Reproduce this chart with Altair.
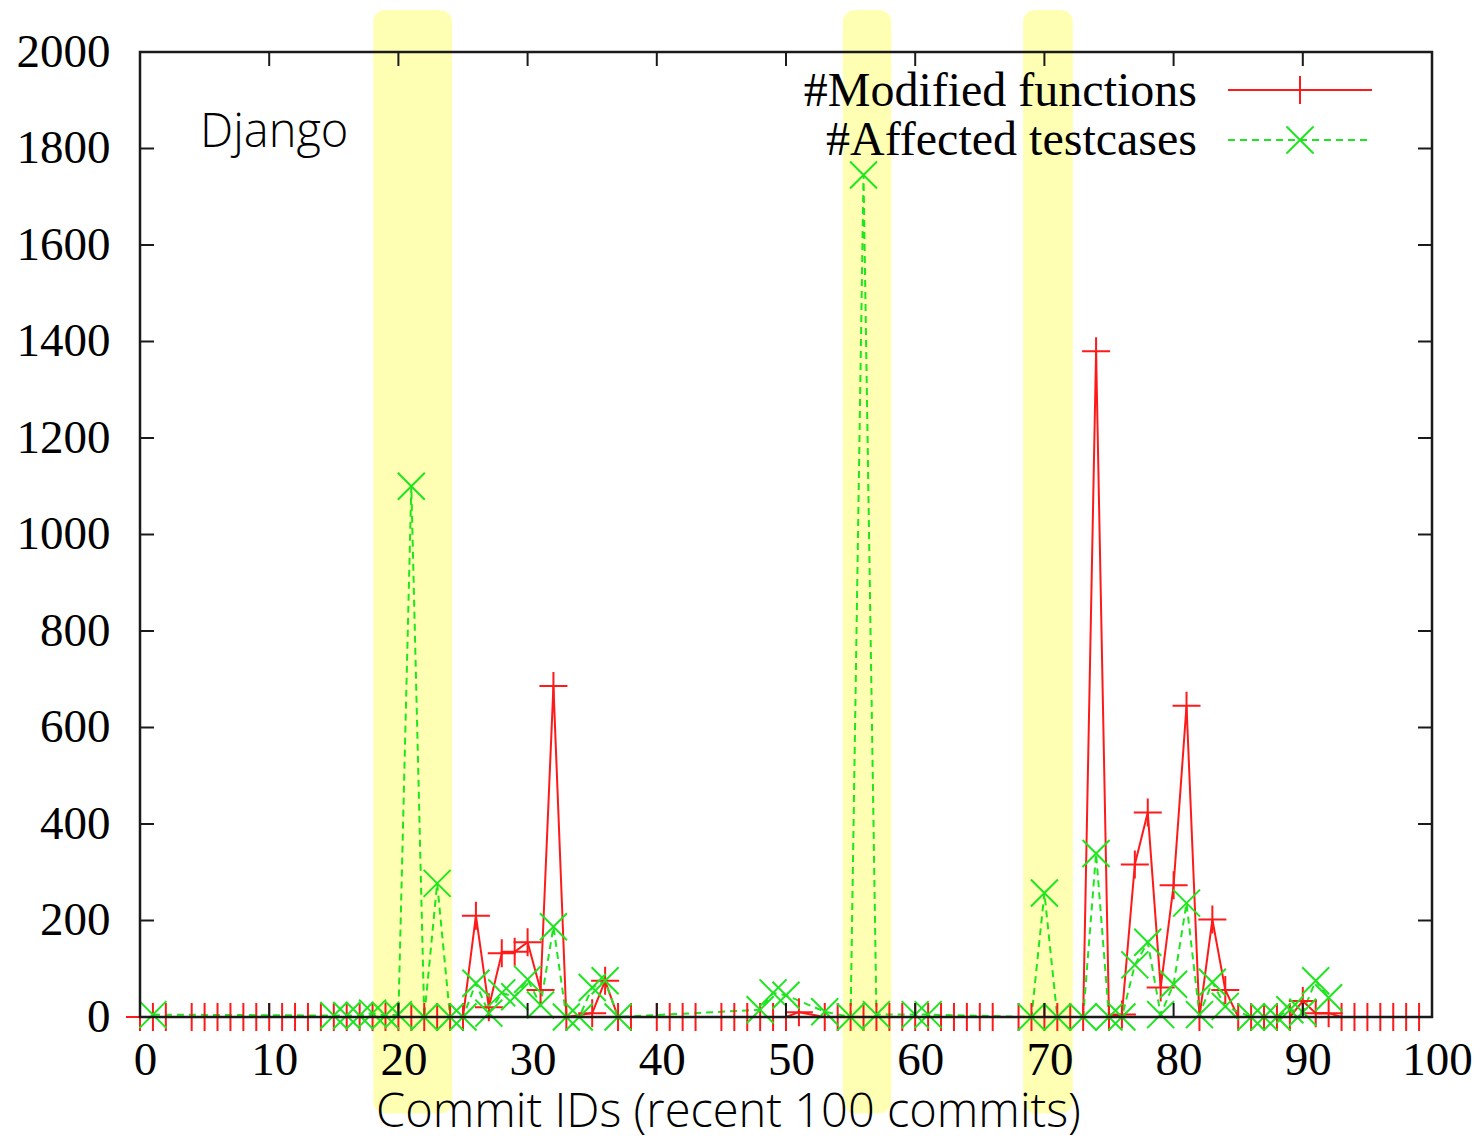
import altair as alt
import pandas as pd

# ---------------- data ----------------
red_commit = [0, 1, 2, 4, 5, 6, 7, 8, 9, 10, 11, 12, 13, 14, 15, 16, 17, 18, 19, 20,
              21, 22, 23, 24, 25, 26, 27, 28, 29, 30, 31, 32, 33, 35, 36, 37, 38, 40, 41, 42,
              43, 45, 46, 47, 48, 49, 50, 51, 53, 54, 55, 56, 57, 58, 59, 60, 61, 62, 63, 64,
              65, 66, 68, 69, 70, 71, 72, 73, 74, 75, 76, 77, 78, 79, 80, 81, 82, 83, 84, 85,
              86, 87, 88, 89, 90, 91, 92, 93, 94, 95, 96, 97, 98, 99]
red_value = [0, 0, 0, 0, 0, 0, 0, 0, 0, 0, 0, 0, 0, 0, 0, 0, 0, 0, 0, 0,
             0, 0, 0, 0, 0, 210, 20, 132, 135, 155, 56, 686, 0, 8, 75, 0, 0, 0, 0, 0,
             0, 0, 0, 0, 0, 0, 0, 10, 0, 0, 0, 0, 0, 0, 0, 0, 0, 0, 0, 0,
             0, 0, 0, 0, 0, 0, 0, 0, 1380, 0, 5, 316, 424, 61, 273, 645, 0, 202, 56, 0,
             0, 0, 0, 0, 33, 8, 8, 0, 0, 0, 0, 0, 0, 0]

green_commit = [1, 15, 16, 17, 18, 19, 20, 21, 22, 23, 24, 25, 26, 27, 28, 29, 30, 31, 32, 33,
                34, 35, 36, 37, 48, 49, 50, 53, 55, 56, 57, 60, 61, 69, 70, 71, 73, 74, 75, 76,
                77, 78, 79, 80, 81, 82, 83, 84, 86, 87, 88, 89, 90, 91, 92]
green_value = [5, 3, 3, 3, 8, 3, 5, 1100, 0, 277, 0, 0, 70, 8, 50, 42, 78, 25, 187, 0,
               0, 61, 75, 0, 15, 50, 45, 11, 0, 1745, 5, 5, 5, 0, 257, 0, 0, 339, 0, 0,
               108, 155, 5, 68, 236, 5, 72, 22, 0, 0, 0, 15, 10, 75, 40]

band_start = [18.05, 54.4, 68.35]
band_end = [24.15, 58.15, 72.2]
band_low = [-200, -200, -200]
band_high = [2087, 2087, 2087]

x_ticks = [0, 10, 20, 30, 40, 50, 60, 70, 80, 90, 100]
y_ticks = [0, 200, 400, 600, 800, 1000, 1200, 1400, 1600, 1800, 2000]

series_names = ["#Modified functions", "#Affected testcases"]

# ---------------- layout / style ----------------
W, H = 1292, 965
RED = "#ff1a1a"
GREEN = "#1ee61e"
FRAME = "#1a1a1a"
PLUS = "M-1,0L1,0M0,-1L0,1"
CROSS = "M-1,-1L1,1M-1,1L1,-1"
SERIF = "Liberation Serif"
SANS = "Open Sans"

xs = alt.Scale(domain=[0, 100], nice=False, zero=False)
ys = alt.Scale(domain=[0, 2000], nice=False)

xaxis = alt.Axis(values=x_ticks, title="Commit IDs (recent 100 commits)", grid=False,
                 domain=False, ticks=False, format="d", labelFont=SERIF, labelFontSize=47,
                 labelColor="black", labelPadding=20, labelOffset=5, labelFlush=False,
                 labelOverlap=False, titleFont=SANS, titleFontSize=47,
                 titleFontWeight=300, titleColor="black", titleX=588, titleY=109,
                 titleAlign="center", titleBaseline="alphabetic", zindex=1)
yaxis = alt.Axis(values=y_ticks, title=None, grid=False, domain=False, ticks=False,
                 format="d", labelFont=SERIF, labelFontSize=47, labelColor="black",
                 labelPadding=30, labelOverlap=False, zindex=1)

red_df = pd.DataFrame({"commit": red_commit, "value": red_value})
green_df = pd.DataFrame({"commit": green_commit, "value": green_value})
band_df = pd.DataFrame({"start": band_start, "end": band_end,
                        "lo": band_low, "hi": band_high})
xt_df = pd.DataFrame({"t": x_ticks})
yt_df = pd.DataFrame({"t": y_ticks})
one = pd.DataFrame({"k": [0]})


def X(field):
    return alt.X(field, type="quantitative", scale=xs, axis=xaxis)


def Y(field):
    return alt.Y(field, type="quantitative", scale=ys, axis=yaxis)


bands = alt.Chart(band_df).mark_rect(color="#ffffb4", cornerRadius=12, clip=False).encode(
    x=X("start"), x2="end", y=Y("lo"), y2="hi")

red_line = alt.Chart(red_df).mark_line(color=RED, strokeWidth=2).encode(
    x=X("commit"), y=Y("value"))
green_line = alt.Chart(green_df).mark_line(color=GREEN, strokeWidth=2,
                                           strokeDash=[7, 5]).encode(
    x=X("commit"), y=Y("value"))

red_pts = alt.Chart(red_df).mark_point(shape=PLUS, filled=False, size=784, color=RED,
                                       strokeWidth=2, opacity=1).encode(
    x=X("commit"), y=Y("value"))
green_pts = alt.Chart(green_df).mark_point(shape=CROSS, filled=False, size=729,
                                           color=GREEN, strokeWidth=2, opacity=1).encode(
    x=X("commit"), y=Y("value"))

frame = alt.Chart(one).mark_rect(filled=False, stroke=FRAME, strokeWidth=2.5).encode(
    x=alt.value(0), x2=alt.value(W), y=alt.value(0), y2=alt.value(H))

tick_len = 14
xt_bottom = alt.Chart(xt_df).mark_rule(color=FRAME, strokeWidth=2).encode(
    x=X("t"), y=alt.value(H), y2=alt.value(H - tick_len))
xt_top = alt.Chart(xt_df).mark_rule(color=FRAME, strokeWidth=2).encode(
    x=X("t"), y=alt.value(0), y2=alt.value(tick_len))
yt_left = alt.Chart(yt_df).mark_rule(color=FRAME, strokeWidth=2).encode(
    y=Y("t"), x=alt.value(0), x2=alt.value(tick_len))
yt_right = alt.Chart(yt_df).mark_rule(color=FRAME, strokeWidth=2).encode(
    y=Y("t"), x=alt.value(W), x2=alt.value(W - tick_len))

# legend (drawn by hand, gnuplot style)
leg_text_red = alt.Chart(one).mark_text(text=series_names[0], font=SERIF, fontSize=48,
                                        align="right", baseline="alphabetic",
                                        color="black").encode(
    x=alt.value(1057), y=alt.value(54))
leg_text_green = alt.Chart(one).mark_text(text=series_names[1], font=SERIF, fontSize=48,
                                          align="right", baseline="alphabetic",
                                          color="black").encode(
    x=alt.value(1057), y=alt.value(103))
leg_line_red = alt.Chart(one).mark_rule(color=RED, strokeWidth=2).encode(
    x=alt.value(1088), x2=alt.value(1232), y=alt.value(38))
leg_line_green = alt.Chart(one).mark_rule(color=GREEN, strokeWidth=2,
                                          strokeDash=[7, 5]).encode(
    x=alt.value(1088), x2=alt.value(1232), y=alt.value(88))
leg_pt_red = alt.Chart(one).mark_point(shape=PLUS, filled=False, size=784, color=RED,
                                       strokeWidth=2, opacity=1).encode(
    x=alt.value(1160), y=alt.value(38))
leg_pt_green = alt.Chart(one).mark_point(shape=CROSS, filled=False, size=729,
                                         color=GREEN, strokeWidth=2, opacity=1).encode(
    x=alt.value(1160), y=alt.value(88))

django = alt.Chart(one).mark_text(text="Django", font=SANS, fontSize=47, fontWeight=300,
                                  align="left", baseline="alphabetic",
                                  color="black").encode(
    x=alt.value(60), y=alt.value(95))

chart = alt.layer(
    bands, red_line, green_line, red_pts, green_pts,
    frame, xt_bottom, xt_top, yt_left, yt_right,
    leg_text_red, leg_text_green, leg_line_red, leg_line_green, leg_pt_red, leg_pt_green,
    django,
).properties(
    width=W, height=H,
    autosize=alt.AutoSizeParams(type="none"),
    padding={"left": 132, "top": 44, "right": 44, "bottom": 122},
    background="white",
).configure_view(strokeWidth=0)

chart.save("out.html", embed_options={"renderer": "svg", "actions": False})
